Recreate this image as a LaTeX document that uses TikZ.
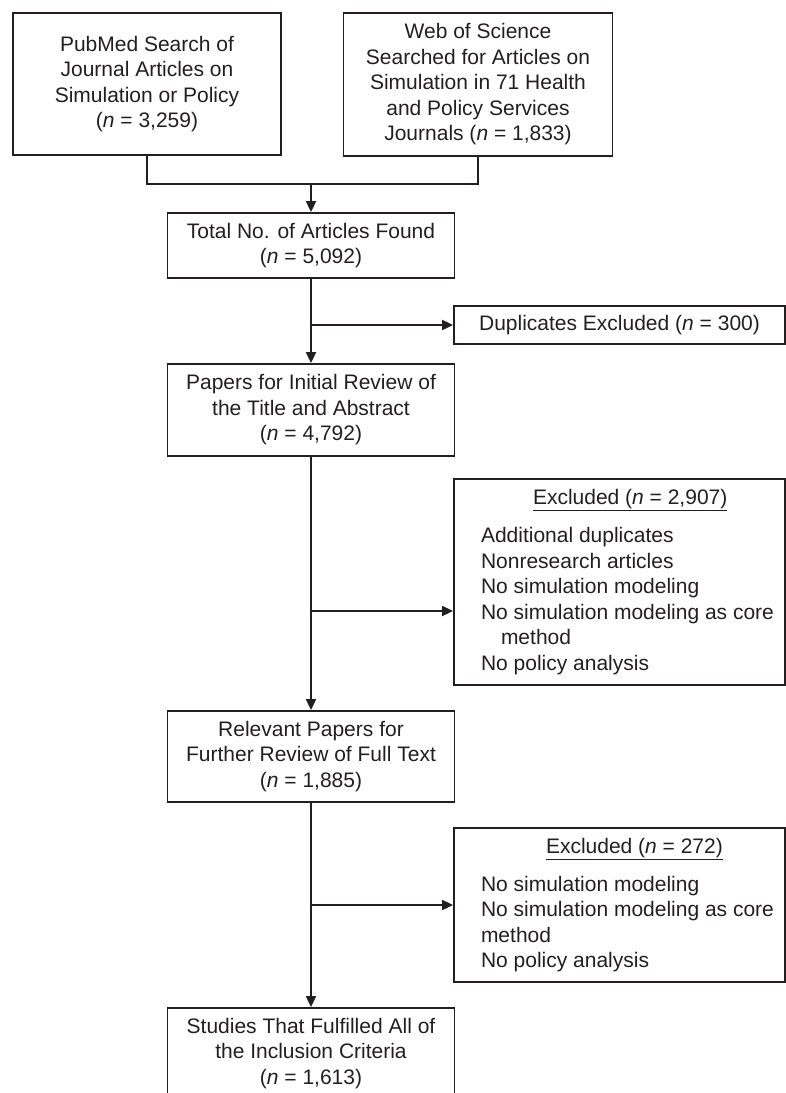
\documentclass[tikz,border=0pt]{standalone}
\usepackage{fontspec}
\setmainfont{Liberation Sans}
\usetikzlibrary{arrows.meta}
\definecolor{ink}{RGB}{35,31,32}
\newcommand{\diagfont}{\fontsize{21}{25.5}\selectfont}
\begin{document}
\begin{tikzpicture}[x=1pt,y=-1pt,
  box/.style={draw=ink, line width=1.8pt, text=ink, inner sep=0pt, align=center, font=\diagfont},
  link/.style={draw=ink, line width=1.8pt},
  arr/.style={link, -{Triangle[length=11pt,width=10pt]}},
]
\useasboundingbox (0,0) rectangle (786,1093);

\node[box, minimum width=268pt, minimum height=142pt] (pub) at (147,84)
  {PubMed Search of\\Journal Articles on\\Simulation or Policy\\(\textit{n} = 3,259)};
\node[box, minimum width=269pt, minimum height=143pt] (wos) at (478,84.5)
  {Web of Science\\Searched for Articles on\\Simulation in 71 Health\\and Policy Services\\Journals (\textit{n} = 1,833)};

\node[box, minimum width=287pt, minimum height=65pt] (total) at (311,245.5)
  {Total No. of Articles Found\\(\textit{n} = 5,092)};
\node[box, minimum width=331pt, minimum height=38pt] (dup) at (619.5,325)
  {Duplicates Excluded (\textit{n} = 300)};
\node[box, minimum width=287pt, minimum height=92pt] (pap) at (311,410)
  {Papers for Initial Review of\\the Title and Abstract\\(\textit{n} = 4,792)};
\node[box, minimum width=331pt, minimum height=206pt] (exc1) at (619.5,582)
  {\makebox[277pt][l]{\hspace*{52pt}\underline{Excluded (\textit{n} = 2,907)}}\\[12.5pt]
   \makebox[277pt][l]{Additional duplicates}\\
   \makebox[277pt][l]{Nonresearch articles}\\
   \makebox[277pt][l]{No simulation modeling}\\
   \makebox[277pt][l]{No simulation modeling as core}\\
   \makebox[277pt][l]{\hspace*{20pt}method}\\
   \makebox[277pt][l]{No policy analysis}};
\node[box, minimum width=287pt, minimum height=91pt] (rel) at (311,756.5)
  {Relevant Papers for\\Further Review of Full Text\\(\textit{n} = 1,885)};
\node[box, minimum width=331pt, minimum height=154pt] (exc2) at (619.5,905)
  {\makebox[277pt][l]{\hspace*{65pt}\underline{Excluded (\textit{n} = 272)}}\\[12.5pt]
   \makebox[277pt][l]{No simulation modeling}\\
   \makebox[277pt][l]{No simulation modeling as core}\\
   \makebox[277pt][l]{method}\\
   \makebox[277pt][l]{No policy analysis}};
\node[box, minimum width=287pt, minimum height=91pt] (stu) at (311,1053.5)
  {Studies That Fulfilled All of\\the Inclusion Criteria\\(\textit{n} = 1,613)};

\coordinate (j) at (311,184);
\coordinate (b1) at (311,325);
\coordinate (b2) at (311,611);
\coordinate (b3) at (311,905);

\draw[link] (pub.south) |- (j) -| (wos.south);
\draw[arr] (j) -- (total.north);
\draw[arr] (total.south) -- (pap.north);
\draw[arr] (b1) -- (dup.west);
\draw[arr] (pap.south) -- (rel.north);
\draw[arr] (b2) -- (b2 -| exc1.west);
\draw[arr] (rel.south) -- (stu.north);
\draw[arr] (b3) -- (exc2.west);
\end{tikzpicture}
\end{document}
